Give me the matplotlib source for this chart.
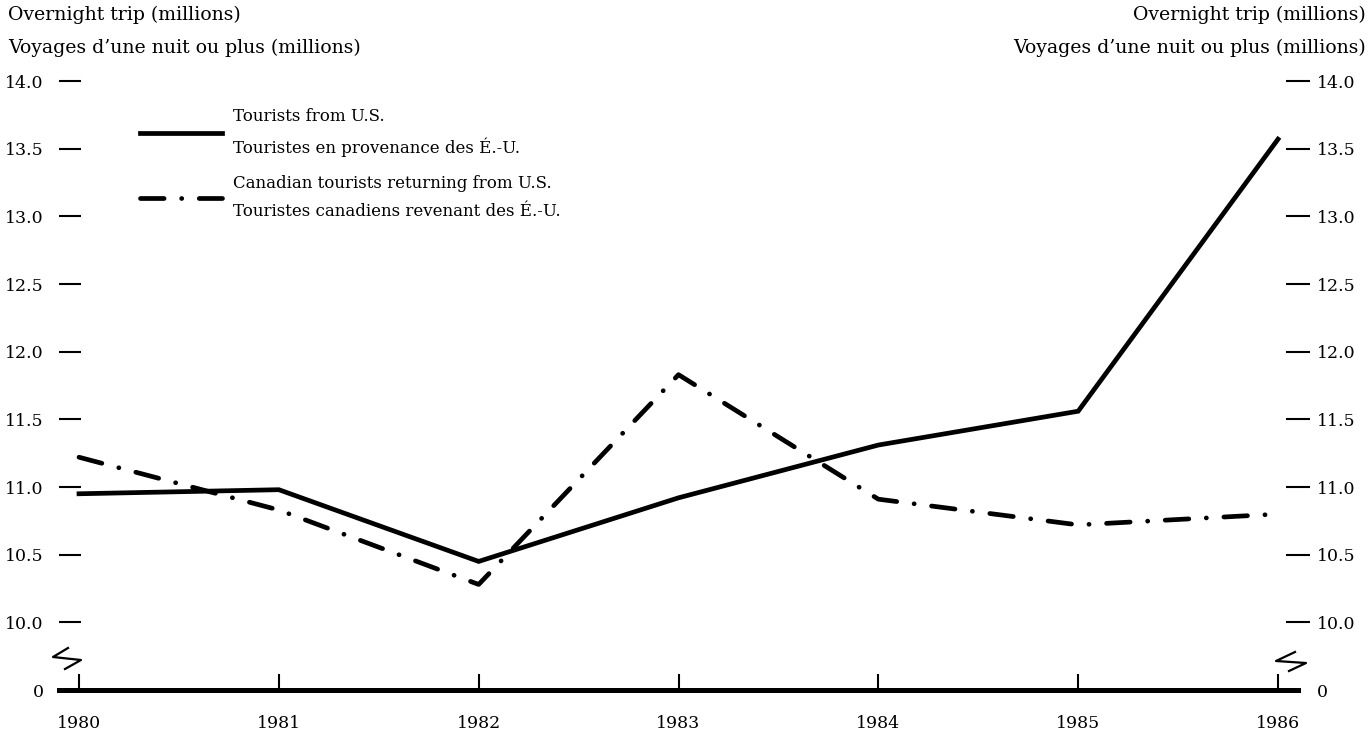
import matplotlib
matplotlib.use("Agg")
import matplotlib.pyplot as plt
from matplotlib.lines import Line2D

# ── data ─────────────────────────────────────────────────────────────────────
years         = [1980, 1981, 1982, 1983, 1984, 1985, 1986]
us_tourists   = [10.95, 10.98, 10.45, 10.92, 11.31, 11.56, 13.57]
cdn_returning = [11.22, 10.83, 10.28, 11.83, 10.91, 10.72, 10.80]

y_ticks       = [10.0, 10.5, 11.0, 11.5, 12.0, 12.5, 13.0, 13.5, 14.0]
y_labels      = ["10.0", "10.5", "11.0", "11.5", "12.0", "12.5", "13.0", "13.5", "14.0"]
BREAK_POS     = 9.5   # the "0" baseline sits below the axis break

label_us  = "Tourists from U.S.\nTouristes en provenance des É.-U."
label_cdn = "Canadian tourists returning from U.S.\nTouristes canadiens revenant des É.-U."
head_en   = "Overnight trip (millions)"
head_fr   = "Voyages d’une nuit ou plus (millions)"

plt.rcParams["font.family"] = "DejaVu Serif"
plt.rcParams["font.size"] = 12
plt.rcParams["lines.scale_dashes"] = False

W, H = 1372, 739
fig = plt.figure(figsize=(W / 100, H / 100), dpi=100)
ax = fig.add_axes([59 / W, 1 - 690 / H, (1298 - 59) / W, (690 - 81) / H])

ax.plot(years, us_tourists, color="black", lw=3.4, solid_joinstyle="miter",
        label=label_us)
ax.plot(years, cdn_returning, color="black", lw=3.4, dashes=(17, 12.6, 0.1, 12.6),
        dash_capstyle="round", label=label_cdn)

ax.set_xlim(1980 - 20 / 199.8, 1986 + 20 / 199.8)
ax.set_ylim(BREAK_POS, 14.0)
ax.set_xticks(years)
ax.set_yticks([BREAK_POS] + y_ticks)
ax.set_yticklabels(["0"] + y_labels)

for s in ["top", "left", "right"]:
    ax.spines[s].set_visible(False)
ax.spines["bottom"].set_linewidth(3.6)

ax.tick_params(axis="x", direction="in", length=11.5, width=1.5, pad=18, labelsize=12.5)
ax.tick_params(axis="y", direction="in", length=16, width=1.5, pad=11, labelsize=12.5)

# right-hand scale
ax2 = ax.twinx()
ax2.set_ylim(BREAK_POS, 14.0)
ax2.set_yticks([BREAK_POS] + y_ticks)
ax2.set_yticklabels(["0"] + y_labels)
for s in ax2.spines.values():
    s.set_visible(False)
ax2.tick_params(axis="y", direction="inout", length=17, width=1.5, pad=5, labelsize=12.5)
ax2.yaxis.get_major_ticks()[0].tick2line.set_visible(False)

# axis-break marks
def px(x, y):
    return x / W, 1 - y / H

for pts in ([(68, 648), (53, 657), (81, 660), (65, 669)],
            [(1295, 652), (1276, 661), (1306, 663), (1289, 671)]):
    xs, ys = zip(*[px(*p) for p in pts])
    fig.add_artist(Line2D(xs, ys, transform=fig.transFigure, color="black", lw=1.6))

# headers
fig.text(8 / W, 1 - 15 / H, head_en, ha="left", va="center", fontsize=13.6)
fig.text(8 / W, 1 - 48 / H, head_fr, ha="left", va="center", fontsize=13.6)
fig.text(1366 / W, 1 - 15 / H, head_en, ha="right", va="center", fontsize=13.6)
fig.text(1366 / W, 1 - 48 / H, head_fr, ha="right", va="center", fontsize=13.6)

leg = ax.legend(loc="upper left", bbox_to_anchor=(140 / W, 1 - 108 / H),
                bbox_transform=fig.transFigure, frameon=False, borderpad=0,
                borderaxespad=0, handlelength=4.9, handletextpad=0.7,
                labelspacing=1.1, fontsize=12)
for t in leg.get_texts():
    t.set_linespacing(1.8)

fig.savefig("out.png", dpi=100)
